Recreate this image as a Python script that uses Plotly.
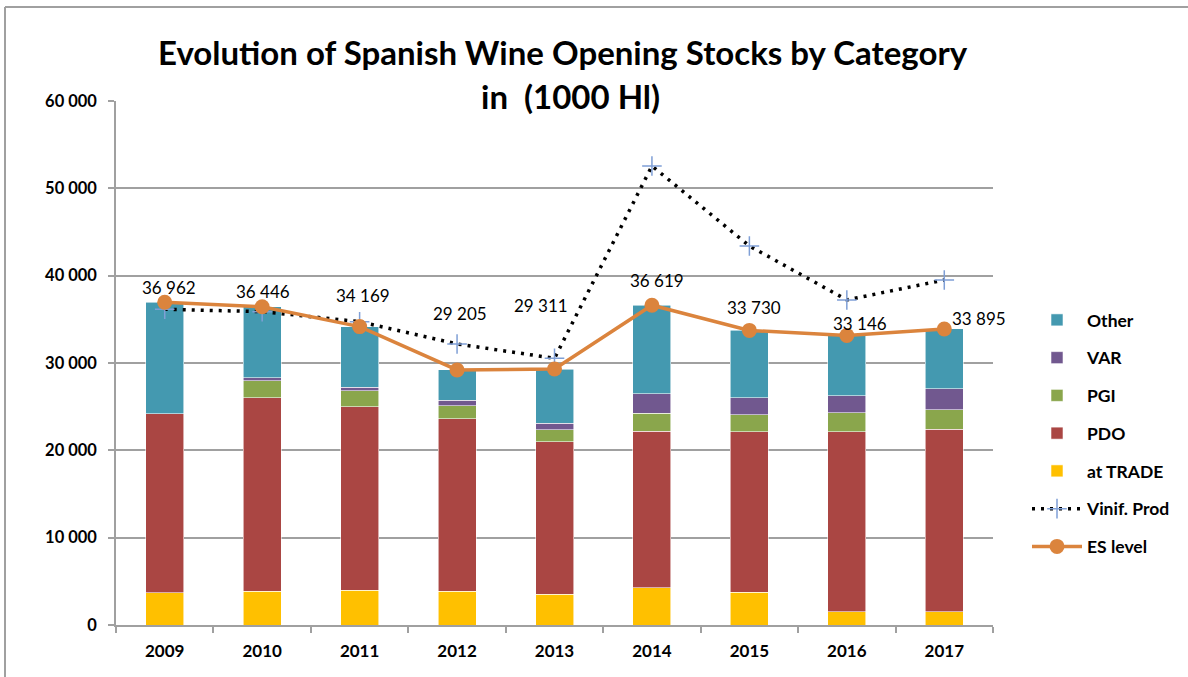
import plotly.graph_objects as go

# ---------------- data ----------------
years = ["2009", "2010", "2011", "2012", "2013", "2014", "2015", "2016", "2017"]
at_trade = [3700, 3890, 3970, 3890, 3550, 4240, 3740, 1530, 1490]
pdo = [20500, 22140, 21030, 19740, 17440, 17970, 18390, 20600, 20950]
pgi = [0, 1950, 1800, 1450, 1380, 2030, 1950, 2150, 2180]
var = [0, 340, 450, 650, 760, 2250, 1950, 1980, 2440]
other = [12762, 8126, 6919, 3475, 6181, 10129, 7700, 6886, 6835]
vinif_prod = [36150, 35880, 34730, 32180, 30540, 52560, 43400, 37220, 39510]
es_level = [36962, 36446, 34169, 29205, 29311, 36619, 33730, 33146, 33895]
y_ticks = [0, 10000, 20000, 30000, 40000, 50000, 60000]

# ---------------- style ----------------
FONT = "Lato, 'Open Sans', sans-serif"
W, H = 1188, 677
ML, MR, MT, MB = 116, 195, 101, 52
# label offsets (px) for ES level data labels: (dx, dy)
label_offsets = [(4, 15), (1, 15), (3, 31), (3, 56), (-14, 64), (5, 25), (5, 23), (13, 12), (35, 10)]

col_other = "#4499B0"
col_var = "#71588F"
col_pgi = "#8AA64C"
col_pdo = "#AA4643"
col_trade = "#FFC000"
col_es = "#DB843D"
col_cross = "#7F9FD6"

fig = go.Figure()
bar_line = dict(width=0.8, color="rgba(255,255,255,0.7)")
fig.add_bar(x=years, y=at_trade, name="at TRADE", marker=dict(color=col_trade, line=bar_line), legendrank=5, legendgroup="t")
fig.add_bar(x=years, y=pdo, name="PDO", marker=dict(color=col_pdo, line=bar_line), legendrank=4, legendgroup="pdo")
fig.add_bar(x=years, y=pgi, name="PGI", marker=dict(color=col_pgi, line=bar_line), legendrank=3, legendgroup="pgi")
fig.add_bar(x=years, y=var, name="VAR", marker=dict(color=col_var, line=bar_line), legendrank=2, legendgroup="var")
fig.add_bar(x=years, y=other, name="Other", marker=dict(color=col_other, line=bar_line), legendrank=1, legendgroup="oth")

fig.add_scatter(x=years, y=vinif_prod, name="Vinif. Prod", mode="lines+markers",
                line=dict(color="black", width=3.5, dash="3px,6px"),
                marker=dict(symbol="cross-thin", size=14, line=dict(color=col_cross, width=1.5), color=col_cross),
                legendrank=6, legendgroup="vin")
fig.add_scatter(x=years, y=es_level, name="ES level", mode="lines+markers",
                line=dict(color=col_es, width=3.5),
                marker=dict(symbol="circle", size=15, color=col_es),
                legendrank=7, legendgroup="es")

# data labels for ES level (x given as category index)
for i, (v, (dx, dy)) in enumerate(zip(es_level, label_offsets)):
    fig.add_annotation(x=i, y=v, text=f"{v:,}".replace(",", " "), showarrow=False,
                       xshift=dx, yshift=dy, font=dict(family=FONT, size=17, color="black"))

# title (two lines)
pw = W - ML - MR
ph = H - MT - MB
def px2x(px):
    return (px - ML) / pw
def py2y(py):
    return (H - MB - py) / ph

fig.add_annotation(xref="paper", yref="paper", x=px2x(563), y=py2y(52), text="<b>Evolution of Spanish Wine Opening Stocks by Category</b>",
                   showarrow=False, font=dict(family=FONT, size=33, color="black"), xanchor="center", yanchor="middle")
fig.add_annotation(xref="paper", yref="paper", x=px2x(570), y=py2y(96), text="<b>in\u00a0 (1000 Hl)</b>",
                   showarrow=False, font=dict(family=FONT, size=33, color="black"), xanchor="center", yanchor="middle")

# outer chart frame
fig.add_shape(type="line", xref="paper", yref="paper", x0=px2x(5), x1=px2x(1188), y0=py2y(7), y1=py2y(7),
              line=dict(color="#A0A0A0", width=2))
fig.add_shape(type="line", xref="paper", yref="paper", x0=px2x(5), x1=px2x(5), y0=py2y(7), y1=py2y(677),
              line=dict(color="#A0A0A0", width=2))

fig.update_layout(
    width=W, height=H,
    barmode="stack", bargap=0.61,
    margin=dict(l=ML, r=MR, t=MT, b=MB, autoexpand=False),
    paper_bgcolor="white", plot_bgcolor="white",
    separators=". ",
    font=dict(family=FONT, color="black"),
    legend=dict(x=px2x(1027), xanchor="left", y=py2y(302), yanchor="top",
                font=dict(family=FONT, size=17.5, color="black", weight="bold"),
                tracegroupgap=12, itemwidth=50, bgcolor="rgba(0,0,0,0)"),
    showlegend=True,
)
fig.update_xaxes(type="category", range=[-0.5, len(years) - 0.5], showline=True, linecolor="#A0A0A0", linewidth=1.5,
                 ticks="outside", tickson="boundaries", ticklen=6, tickcolor="#A0A0A0", tickwidth=1.5,
                 tickangle=0, ticklabelstandoff=10,
                 tickfont=dict(family=FONT, size=17, color="black", weight="bold"), showgrid=False)
fig.update_yaxes(range=[0, 60000], tickvals=y_ticks, tickformat=",d",
                 showgrid=True, gridcolor="#A0A0A0", gridwidth=1.5,
                 showline=True, linecolor="#A0A0A0", linewidth=1.5,
                 ticks="outside", ticklen=6, tickcolor="#A0A0A0", tickwidth=1.5, ticklabelstandoff=8,
                 tickfont=dict(family=FONT, size=16.5, color="black", weight="bold"), zeroline=False)

fig.write_html("out.html", config={"displayModeBar": False},
               post_script="document.body.style.margin='0px';document.body.style.overflow='hidden';")
